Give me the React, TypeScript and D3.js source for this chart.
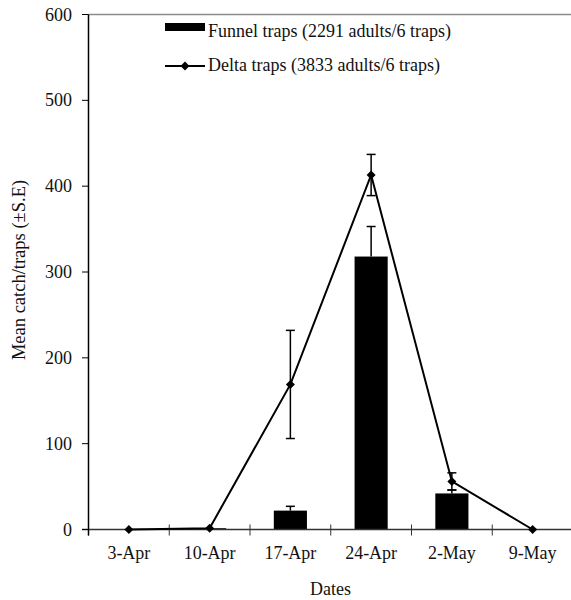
import React from "react";
import * as d3 from "d3";

const dates = ["3-Apr", "10-Apr", "17-Apr", "24-Apr", "2-May", "9-May"];
const funnelMean = [0, 1.5, 22, 318, 42, 0];
const funnelSE = [0, 0, 5, 35, 4, 0];
const deltaMean = [0, 1.5, 169, 413, 56, 0];
const deltaSE = [0, 0, 63, 24, 10, 0];
const yTicks = [0, 100, 200, 300, 400, 500, 600];
const legendLabels = ["Funnel traps (2291 adults/6 traps)", "Delta traps (3833 adults/6 traps)"];

const W = 571;
const H = 600;
const FONT = "'Liberation Serif', 'Times New Roman', serif";

export default function App() {
  const x = d3.scaleBand<string>().domain(dates).range([88.5, 573]).padding(0);
  const y = d3.scaleLinear().domain([0, 600]).range([529.5, 14.5]);
  const bw = x.bandwidth() * 0.41;
  const cx = (d: string) => (x(d) as number) + x.bandwidth() / 2;
  const line = d3
    .line<number>()
    .x((_, i) => cx(dates[i]))
    .y((v) => y(v));
  const diamond = (px: number, py: number, r: number) =>
    `M${px},${py - r}L${px + r},${py}L${px},${py + r}L${px - r},${py}Z`;
  const cap = 4.5;

  return (
    <div style={{ position: "absolute", left: 0, top: 0 }}>
      <svg width={W} height={H} style={{ display: "block", background: "#fff" }}>
        <line x1={88.5} x2={W} y1={y(600)} y2={y(600)} stroke="#8c8c8c" strokeWidth={1.5} />
        {dates.map((d, i) => (
          <rect
            key={"b" + d}
            x={cx(d) - bw / 2}
            y={y(funnelMean[i])}
            width={bw}
            height={y(0) - y(funnelMean[i])}
            fill="#000"
          />
        ))}
        {dates.map((d, i) =>
          funnelSE[i] > 0 ? (
            <g key={"fe" + d} stroke="#000" strokeWidth={1.5}>
              <line x1={cx(d)} x2={cx(d)} y1={y(funnelMean[i])} y2={y(funnelMean[i] + funnelSE[i])} />
              <line x1={cx(d) - cap} x2={cx(d) + cap} y1={y(funnelMean[i] + funnelSE[i])} y2={y(funnelMean[i] + funnelSE[i])} />
            </g>
          ) : null
        )}
        <line x1={82} x2={W} y1={y(0)} y2={y(0)} stroke="#333" strokeWidth={1.5} />
        {dates.map((d) => (
          <line key={"xt" + d} x1={x(d) as number} x2={x(d) as number} y1={y(0) - 5} y2={y(0) + 6} stroke="#333" strokeWidth={1} />
        ))}
        <line x1={88.5} x2={88.5} y1={y(600)} y2={y(0) + 6} stroke="#000" strokeWidth={1.5} />
        {yTicks.map((t) => (
          <g key={"yt" + t}>
            <line x1={82} x2={88.5} y1={y(t)} y2={y(t)} stroke="#000" strokeWidth={1} />
            <text x={72} y={y(t)} textAnchor="end" dominantBaseline="central" fontFamily={FONT} fontSize={18} fill="#111">
              {t}
            </text>
          </g>
        ))}
        <path d={line(deltaMean) || ""} fill="none" stroke="#000" strokeWidth={2} />
        {dates.map((d, i) =>
          deltaSE[i] > 0 ? (
            <g key={"de" + d} stroke="#000" strokeWidth={1.5}>
              <line x1={cx(d)} x2={cx(d)} y1={y(deltaMean[i] - deltaSE[i])} y2={y(deltaMean[i] + deltaSE[i])} />
              <line x1={cx(d) - cap} x2={cx(d) + cap} y1={y(deltaMean[i] + deltaSE[i])} y2={y(deltaMean[i] + deltaSE[i])} />
              <line x1={cx(d) - cap} x2={cx(d) + cap} y1={y(deltaMean[i] - deltaSE[i])} y2={y(deltaMean[i] - deltaSE[i])} />
            </g>
          ) : null
        )}
        {dates.map((d, i) => (
          <path key={"dm" + d} d={diamond(cx(d), y(deltaMean[i]), 4.5)} fill="#000" />
        ))}
        {dates.map((d) => (
          <text key={"xl" + d} x={cx(d)} y={559} textAnchor="middle" fontFamily={FONT} fontSize={18} fill="#111">
            {d}
          </text>
        ))}
        <text x={330.5} y={595} textAnchor="middle" fontFamily={FONT} fontSize={18} fill="#111">
          Dates
        </text>
        <text
          transform={`translate(25,270) rotate(-90)`}
          textAnchor="middle"
          fontFamily={FONT}
          fontSize={18.5}
          fill="#111"
        >
          Mean catch/traps (±S.E)
        </text>
        <rect x={165} y={23} width={40} height={8} fill="#000" />
        <text x={208} y={37} fontFamily={FONT} fontSize={18} fill="#111">
          {legendLabels[0]}
        </text>
        <line x1={165} x2={205} y1={66} y2={66} stroke="#000" strokeWidth={2} />
        <path d={diamond(185, 66, 4.5)} fill="#000" />
        <text x={208} y={71} fontFamily={FONT} fontSize={18} fill="#111">
          {legendLabels[1]}
        </text>
      </svg>
    </div>
  );
}
